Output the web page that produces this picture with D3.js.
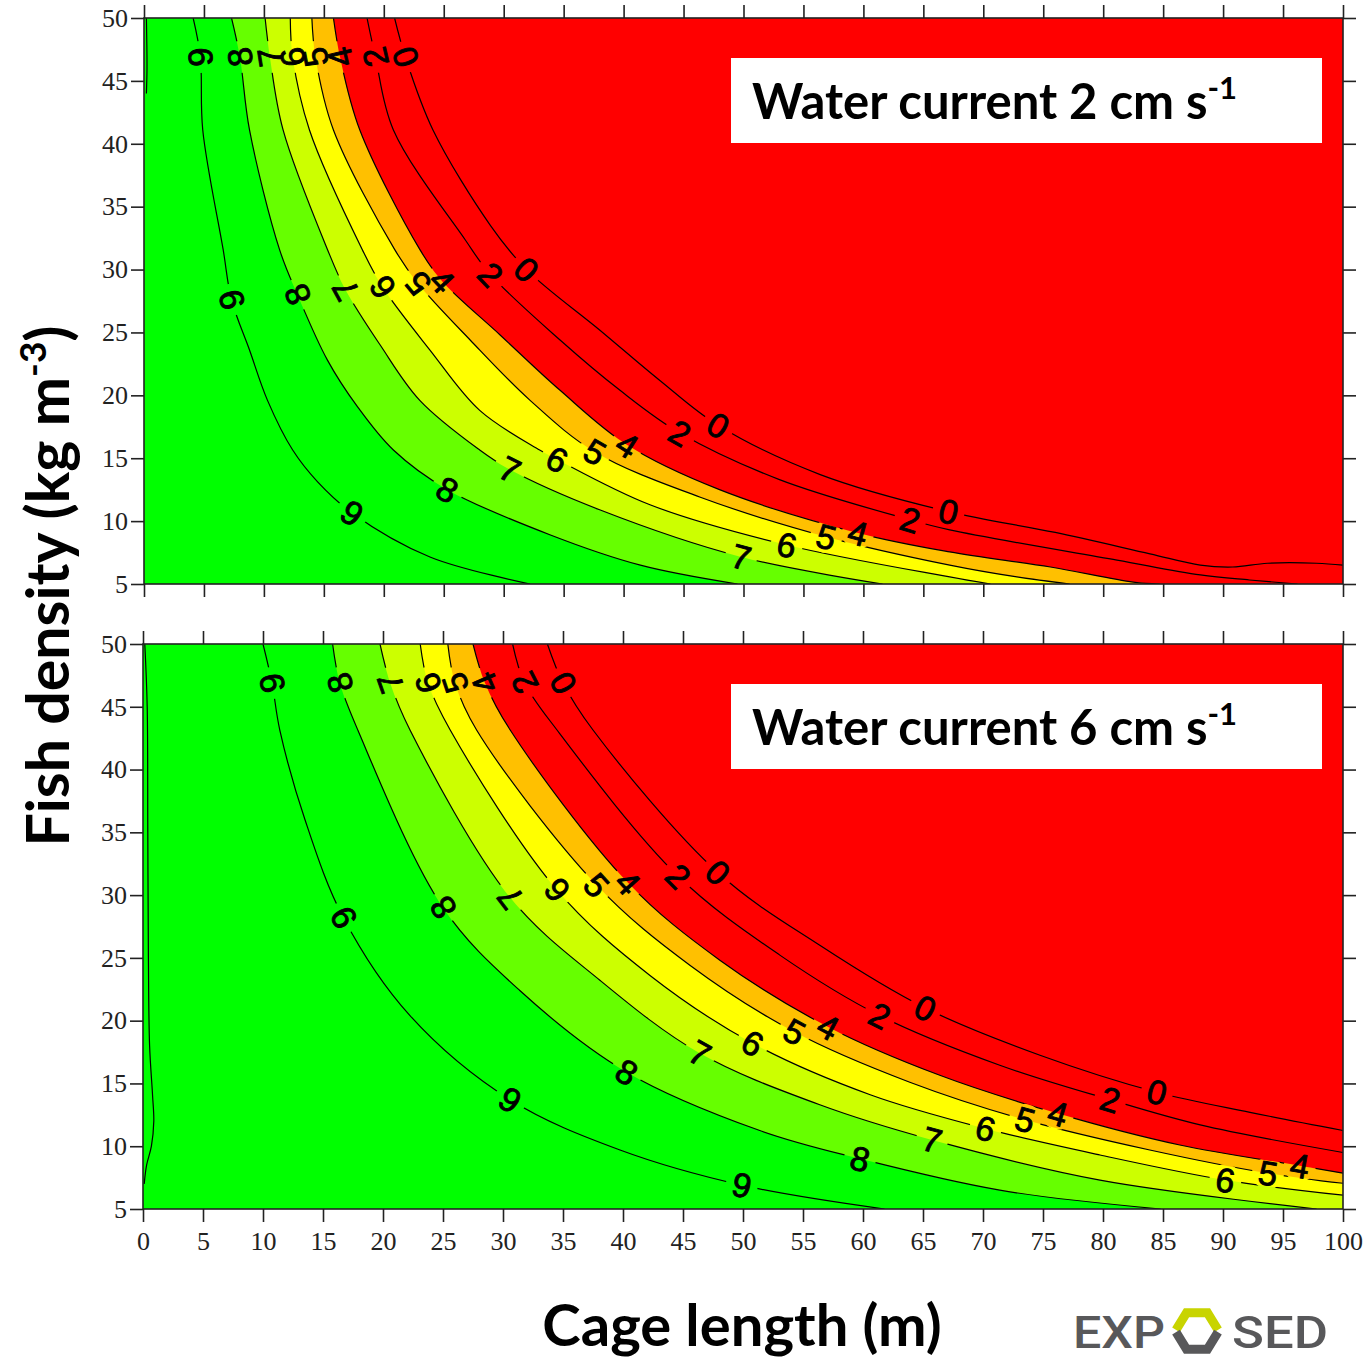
<!DOCTYPE html>
<html><head><meta charset="utf-8">
<script src="https://cdn.jsdelivr.net/npm/d3@7"></script>
<style>body{margin:0;background:#fff}</style>
</head><body>
<svg id="c" width="1366" height="1361"></svg>
<script>
// ---------- DATA ----------
const xTicks = [0,5,10,15,20,25,30,35,40,45,50,55,60,65,70,75,80,85,90,95,100];
const yTicks = [5,10,15,20,25,30,35,40,45,50];
const lineLevels = [9,8,7,6,5,4,2,0];
const fillLevels = [8,7,6,5,4];
const fillColors = ["#66ff00","#ccff00","#ffff00","#ffc000","#ff0000"]; // value below each fill level
const baseColor = "#00ff00";
const panelTitles = ["Water current 2 cm s", "Water current 6 cm s"];

// contour lines [cage length, fish density] — top panel (2 cm/s)
const top9 = [[4.1,50],[4.7,46.9],[4.9,41.1],[6.6,31.6],[7.3,27.6],[8.8,23.6],[10.3,19.6],[12.4,15.65],[14.5,13.1],[17.35,10.65],[23.85,7.15],[32.2,5]];
const top8 = [[7.3,50],[8.0,46.9],[8.8,41.1],[11.3,31.6],[12.8,28.0],[15.3,22.8],[17.8,19.1],[20.8,15.65],[25.3,12.5],[33.9,8.9],[41.4,6.5],[49.5,5]];
const top7 = [[10.1,50],[10.5,46.9],[11.6,41.1],[15.3,31.6],[16.8,28.4],[19.7,24.0],[23.0,19.6],[28.0,15.65],[30.5,14.1],[38.0,10.9],[49.8,7.15],[61.6,5]];
const top6 = [[12.2,50],[12.4,46.9],[13.8,41.1],[18.2,31.6],[19.9,28.6],[23.85,23.6],[28.0,18.8],[33.0,15.65],[34.45,14.9],[42.2,11.3],[53.6,8.1],[67.2,5.56],[70.6,5]];
const top5 = [[14.0,50],[14.3,46.9],[15.8,41.1],[20.9,31.6],[22.85,28.9],[27.2,24.4],[32.2,19.6],[37.6,15.5],[46.4,11.9],[56.9,8.75],[67.2,6.5],[72.8,5.56],[77.2,5]];
const top4 = [[15.8,50],[16.35,46.9],[18.0,41.1],[23.0,31.6],[24.85,29.1],[29.7,24.8],[34.7,20.4],[40.3,16.05],[48.0,12.5],[59.55,9.05],[67.2,7.55],[75.6,6.35],[82.5,5.15],[84.7,5]];
const top2 = [[18.6,50],[19.3,46.9],[20.8,41.1],[26.8,32.35],[28.9,29.6],[34.7,24.4],[39.7,20.4],[44.7,17.0],[53.0,13.3],[63.9,10.1],[67.2,9.3],[81.15,6.9],[88.1,5.72],[92.2,5.32],[96.2,5]];
const top0 = [[20.9,50],[21.8,46.9],[24.1,41.1],[28.9,33.5],[31.9,30.0],[38.0,25.2],[43.0,21.2],[47.9,17.6],[56.4,13.7],[67.1,10.75],[76,9.1],[83.9,7.4],[88.1,6.5],[90.8,6.35],[93.7,6.65],[97.8,6.65],[100,6.5]];
const topEdge = [[0.2,50],[0.25,46],[0.2,44]];

// bottom panel (6 cm/s)
const bot9 = [[10.0,50],[10.75,46.9],[11.4,43.15],[13.5,36.0],[16.7,28.2],[22.25,20.4],[30.6,13.7],[39.75,9.7],[49.9,6.9],[61.8,5]];
const bot8 = [[15.8,50],[16.4,46.9],[17.9,43.15],[25.0,29.0],[31.4,22.4],[40.3,15.9],[51.4,11.25],[59.75,9.0],[71.4,6.5],[84.8,5]];
const bot7 = [[19.75,50],[20.6,46.9],[22.25,43.15],[30.6,29.8],[38.1,23.2],[46.4,17.4],[56.4,13.3],[65.75,10.5],[79.75,7.3],[97.8,5]];
const bot6 = [[23.1,50],[23.75,46.9],[25.6,43.15],[34.5,30.4],[42.25,23.6],[50.8,18.2],[60.6,14.1],[70.2,11.4],[79.75,9.3],[90.2,7.3],[100,6.1]];
const bot5 = [[25.4,50],[26.0,46.9],[27.8,43.15],[37.8,30.8],[45.6,24.4],[54.3,19.1],[63.9,15.1],[73.5,12.1],[83.9,9.7],[93.75,7.85],[100,7.05]];
const bot4 = [[27.5,50],[28.5,46.9],[30.6,43.15],[40.4,31.0],[48.1,24.8],[57.1,19.5],[66.4,15.65],[76.25,12.6],[86.4,10.1],[96.4,8.45],[100,7.85]];
const bot2 = [[30.8,50],[31.8,46.9],[34.5,43.15],[44.6,31.5],[53.1,25.2],[61.4,20.4],[71.4,16.45],[80.6,13.7],[88.1,11.7],[100,9.5]];
const bot0 = [[33.7,50],[35.0,46.9],[37.5,43.15],[47.9,31.8],[56.4,26.0],[65.2,21.0],[74.75,17.25],[84.5,14.3],[92.25,12.7],[100,11.25]];
const botEdge = [[0.15,50],[0.35,45],[0.4,35],[0.45,25],[0.55,18],[0.8,14],[0.9,12],[0.7,10],[0.3,8.5],[0.1,7]];

// contour labels [level, cage length, density]
const topLabels = [
  [9,4.7,46.9],[8,8.0,46.9],[7,10.5,46.9],[6,12.4,46.9],[5,14.3,46.9],[4,16.35,46.9],[2,19.3,46.9],[0,21.8,46.9],
  [9,7.3,27.6],[8,12.8,28.0],[7,16.8,28.4],[6,19.9,28.6],[5,22.85,28.9],[4,24.85,29.1],[2,28.9,29.6],[0,31.9,30.0],
  [8,25.3,12.5],[7,30.5,14.1],[6,34.45,14.9],[5,37.6,15.5],[4,40.3,16.05],[2,44.7,17.0],[0,47.9,17.6],
  [9,17.35,10.65],[7,49.8,7.15],[6,53.6,8.1],[5,56.9,8.75],[4,59.55,9.05],[2,63.9,10.1],[0,67.1,10.75]
];
const botLabels = [
  [9,10.75,46.9],[8,16.4,46.9],[7,20.6,46.9],[6,23.75,46.9],[5,26.0,46.9],[4,28.5,46.9],[2,31.8,46.9],[0,35.0,46.9],
  [9,16.7,28.2],[8,25.0,29.0],[7,30.6,29.8],[6,34.5,30.4],[5,37.8,30.8],[4,40.4,31.0],[2,44.6,31.5],[0,47.9,31.8],
  [9,30.6,13.7],[8,40.3,15.9],[7,46.4,17.4],[6,50.8,18.2],[5,54.3,19.1],[4,57.1,19.5],[2,61.4,20.4],[0,65.2,21.0],
  [9,49.9,6.9],[8,59.75,9.0],[7,65.75,10.5],[6,70.2,11.4],[5,73.5,12.1],[4,76.25,12.6],[2,80.6,13.7],[0,84.5,14.3],
  [6,90.2,7.3],[5,93.75,7.85],[4,96.4,8.45]
];

// ---------- DRAW ----------
const svg = d3.select("#c");
const defs = svg.append("defs");
const sansBold = "Lato, 'Open Sans', sans-serif";

const panels = [
  {id:"t", left:144, right:1343, top:18, bottom:584, contours:{9:top9,8:top8,7:top7,6:top6,5:top5,4:top4,2:top2,0:top0}, edge:topEdge, labels:topLabels, title:panelTitles[0], xLabels:false},
  {id:"b", left:143, right:1343, top:644, bottom:1209, contours:{9:bot9,8:bot8,7:bot7,6:bot6,5:bot5,4:bot4,2:bot2,0:bot0}, edge:botEdge, labels:botLabels, title:panelTitles[1], xLabels:true}
];

function styleAxis(g){
  g.select(".domain").remove();
  g.selectAll(".tick line").attr("stroke","#222").attr("stroke-width",1.6);
  g.selectAll(".tick text").attr("font-family","'Liberation Serif', serif").attr("font-size",26).attr("fill","#222");
}

panels.forEach(p => {
  const x = d3.scaleLinear().domain([0,100]).range([p.left,p.right]);
  const y = d3.scaleLinear().domain([5,50]).range([p.bottom,p.top]);
  const g = svg.append("g");
  defs.append("clipPath").attr("id","clip"+p.id).append("rect")
    .attr("x",p.left).attr("y",p.top).attr("width",p.right-p.left).attr("height",p.bottom-p.top);
  const plot = g.append("g").attr("clip-path",`url(#clip${p.id})`);
  plot.append("rect").attr("x",p.left).attr("y",p.top).attr("width",p.right-p.left).attr("height",p.bottom-p.top).attr("fill",baseColor);
  const line = d3.line().x(d=>x(d[0])).y(d=>y(d[1])).curve(d3.curveCatmullRom.alpha(0.5));
  fillLevels.forEach((lv,i) => {
    const pts = p.contours[lv];
    const last = pts[pts.length-1];
    const d = line(pts) + `L${x(100)+3},${y(last[1])}L${x(100)+3},${y(50)-3}L${x(pts[0][0])},${y(50)-3}Z`;
    plot.append("path").attr("d",d).attr("fill",fillColors[i]);
  });
  // mask for label gaps
  const mask = defs.append("mask").attr("id","mask"+p.id).attr("maskUnits","userSpaceOnUse")
    .attr("x",0).attr("y",0).attr("width",1366).attr("height",1361);
  mask.append("rect").attr("width",1366).attr("height",1361).attr("fill","#fff");
  p.labels.forEach(l => mask.append("circle").attr("cx",x(l[1])).attr("cy",y(l[2])).attr("r",16).attr("fill","#000"));
  const lg = plot.append("g").attr("mask",`url(#mask${p.id})`);
  lineLevels.forEach(lv => lg.append("path").attr("d",line(p.contours[lv])).attr("fill","none").attr("stroke","#000").attr("stroke-width",1.2));
  lg.append("path").attr("d",line(p.edge)).attr("fill","none").attr("stroke","#000").attr("stroke-width",1.2);
  // labels
  p.labels.forEach(l => {
    const pts = p.contours[l[0]];
    let bi = 0, bd = 1e9;
    pts.forEach((q,i)=>{const dd=(q[0]-l[1])**2+(q[1]-l[2])**2; if(dd<bd){bd=dd;bi=i;}});
    const a = pts[Math.max(0,bi-1)], b = pts[Math.min(pts.length-1,bi+1)];
    let ang = Math.atan2(y(b[1])-y(a[1]), x(b[0])-x(a[0]))*180/Math.PI;
    if (ang > 50) ang -= 180;
    plot.append("text").attr("transform",`translate(${x(l[1])},${y(l[2])}) rotate(${ang})`)
      .attr("text-anchor","middle").attr("dominant-baseline","central")
      .attr("font-family","'Liberation Sans', Arial, sans-serif").attr("font-size",34)
      .attr("fill","#000").attr("stroke","#000").attr("stroke-width",0.9).text(l[0]);
  });
  // frame
  g.append("rect").attr("x",p.left).attr("y",p.top).attr("width",p.right-p.left).attr("height",p.bottom-p.top)
    .attr("fill","none").attr("stroke","#222").attr("stroke-width",1.6);
  // axes
  g.append("g").attr("transform",`translate(${p.left},0)`).call(d3.axisLeft(y).tickValues(yTicks).tickSize(13).tickSizeOuter(0).tickPadding(3)).call(styleAxis);
  g.append("g").attr("transform",`translate(${p.right},0)`).call(d3.axisRight(y).tickValues(yTicks).tickSize(13).tickSizeOuter(0).tickFormat("")).call(styleAxis);
  g.append("g").attr("transform",`translate(0,${p.top})`).call(d3.axisTop(x).tickValues(xTicks).tickSize(13).tickSizeOuter(0).tickFormat("")).call(styleAxis);
  const bx = d3.axisBottom(x).tickValues(xTicks).tickSize(13).tickSizeOuter(0).tickPadding(10);
  if (!p.xLabels) bx.tickFormat("");
  g.append("g").attr("transform",`translate(0,${p.bottom})`).call(bx).call(styleAxis);
  // title box
  const bx0 = 731, by0 = p.top + 40;
  g.append("rect").attr("x",bx0).attr("y",by0).attr("width",591).attr("height",85).attr("fill","#fff");
  const t = g.append("text").attr("x",752).attr("y",by0+61).attr("font-family",sansBold)
    .attr("font-weight",700).attr("font-size",49).attr("fill","#000");
  t.append("tspan").text(p.title);
  t.append("tspan").attr("dy",-20).attr("font-size",31).text("-1");
});

// axis titles
const yt = svg.append("text").attr("transform","translate(69,586) rotate(-90)").attr("text-anchor","middle")
  .attr("font-family",sansBold).attr("font-weight",700).attr("font-size",59).attr("fill","#000");
yt.append("tspan").text("Fish density (kg m");
yt.append("tspan").attr("dy",-23).attr("font-size",37).text("-3");
yt.append("tspan").attr("dy",23).text(")");
svg.append("text").attr("x",742).attr("y",1346).attr("text-anchor","middle")
  .attr("font-family",sansBold).attr("font-weight",700).attr("font-size",58).attr("fill","#000")
  .text("Cage length (m)");

// logo
const logo = svg.append("g");
logo.append("text").attr("x",1073).attr("y",1348).attr("font-family","Roboto, sans-serif").attr("font-weight",500)
  .attr("font-size",45).attr("fill","#58585a").attr("textLength",92).attr("lengthAdjust","spacingAndGlyphs").text("EXP");
logo.append("text").attr("x",1232).attr("y",1348).attr("font-family","Roboto, sans-serif").attr("font-weight",500)
  .attr("font-size",45).attr("fill","#58585a").attr("textLength",96).attr("lengthAdjust","spacingAndGlyphs").text("SED");
const cx=1197, cy=1331, r=21;
const hp = k => [cx + r*Math.cos(k*Math.PI/3), cy + r*Math.sin(k*Math.PI/3)];
logo.append("path").attr("d",d3.line()([hp(3.05),hp(4),hp(5),hp(5.95)])).attr("fill","none").attr("stroke","#c8d400").attr("stroke-width",9).attr("stroke-linejoin","miter");
logo.append("path").attr("d",d3.line()([hp(0.05),hp(1),hp(2),hp(2.95)])).attr("fill","none").attr("stroke","#58585a").attr("stroke-width",9).attr("stroke-linejoin","miter");
</script>
</body></html>
